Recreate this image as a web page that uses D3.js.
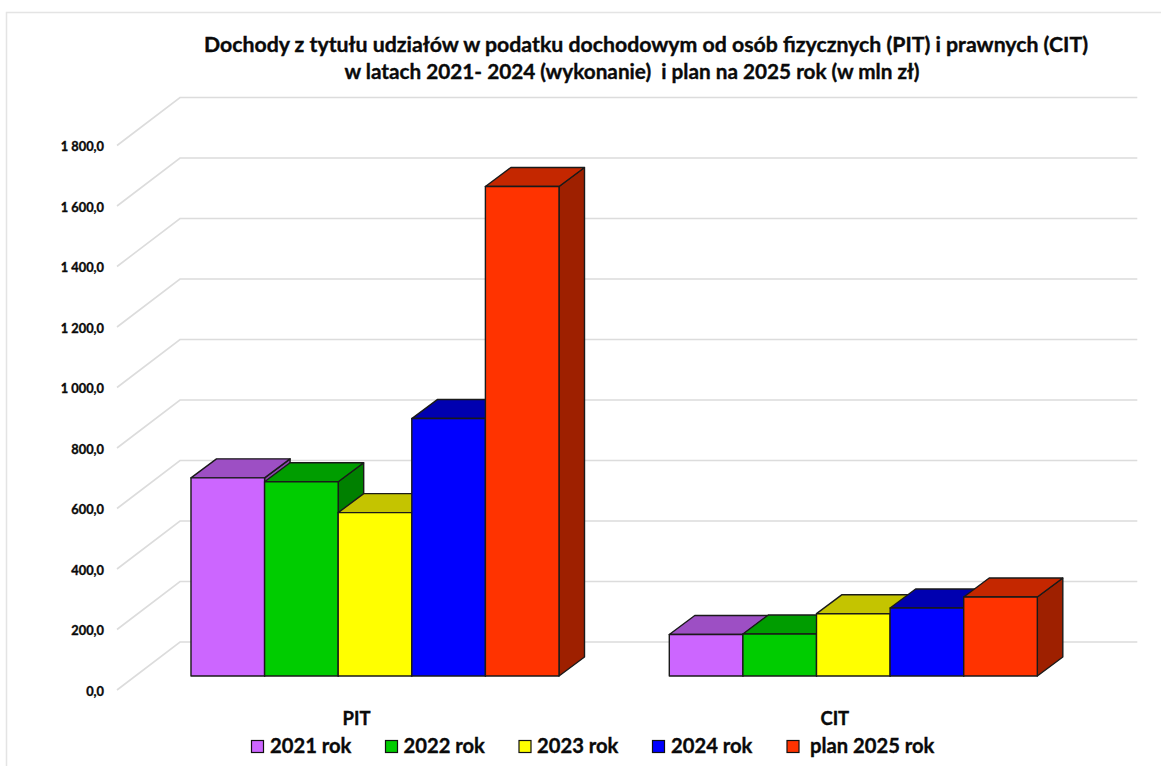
<!DOCTYPE html>
<html>
<head>
<meta charset="utf-8">
<script src="https://cdn.jsdelivr.net/npm/d3@7"></script>
<style>
  html, body { margin: 0; padding: 0; background: #fff; }
  svg { display: block; }
  text { font-family: Lato, "Open Sans", sans-serif; font-weight: 700; fill: #0a0a0a; stroke: #0a0a0a; stroke-width: 0.35px; }
</style>
</head>
<body>
<script>
// DEFINE DATA
var categories = ['PIT', 'CIT'];
var seriesNames = ['2021 rok', '2022 rok', '2023 rok', '2024 rok', 'plan 2025 rok'];
var pitValues = [655, 642, 540, 851, 1618];
var citValues = [137, 139, 206, 225, 261];
var tickValues = [0, 200, 400, 600, 800, 1000, 1200, 1400, 1600, 1800];
var titleLines = [
  'Dochody z tytułu udziałów w podatku dochodowym od osób fizycznych (PIT) i prawnych (CIT)',
  'w latach 2021- 2024 (wykonanie)  i plan na 2025 rok (w mln zł)'
];

var frontColors = ['#cc66ff', '#00cc00', '#ffff00', '#0000ff', '#ff3300'];
var topColors = ['#9d4fc4', '#009d00', '#c4c400', '#0000b0', '#c42700'];
var sideColors = ['#8a45ad', '#008000', '#a0a000', '#00008f', '#9e2000'];

// DEFINE VARIABLES
var svgWidth = 1161;
var svgHeight = 766;
var plotLeft = 117;
var plotRight = 1074.3;
var wallDx = 63;
var wallDy = -48;
var barOffsetX = 18.5;
var barOffsetY = -14;
var barDx = 25.5;
var barDy = -19;

var svg = d3.select('body').append('svg')
  .attr('width', svgWidth)
  .attr('height', svgHeight);

// panel border
svg.append('path')
  .attr('d', 'M6.5,766V12.5H1161')
  .attr('fill', 'none')
  .attr('stroke', '#e4e4e4')
  .attr('stroke-width', 1.5);

// SCALES (front plane of the floor)
var y = d3.scaleLinear().domain([0, 1800]).range([690, 145.5]);
var x0 = d3.scaleBand().domain(categories).range([plotLeft, plotRight]).paddingInner(0.2306).paddingOuter(0.116);
var x1 = d3.scaleBand().domain(seriesNames).range([0, x0.bandwidth()]);

// gridlines on the side and back wall
svg.append('g').selectAll('path')
  .data(tickValues)
  .enter()
  .append('path')
  .attr('d', function(d) {
    return 'M' + plotLeft + ',' + y(d) +
      'L' + (plotLeft + wallDx) + ',' + (y(d) + wallDy) +
      'L' + (plotRight + wallDx) + ',' + (y(d) + wallDy);
  })
  .attr('fill', 'none')
  .attr('stroke', '#dcdcdc')
  .attr('stroke-width', 1.6);

// tick labels
var pl = d3.formatLocale({ decimal: ',', thousands: ' ', grouping: [3], currency: ['', ''] });
var yAxis = d3.axisLeft(y)
  .tickValues(tickValues)
  .tickFormat(pl.format(',.1f'))
  .tickSize(0)
  .tickPadding(0);

var axisG = svg.append('g')
  .attr('transform', 'translate(104,1)')
  .call(yAxis);
axisG.select('.domain').remove();
axisG.selectAll('text')
  .style('font-family', 'Lato, sans-serif')
  .style('font-weight', 700)
  .style('font-size', '12.8px')
  .attr('fill', '#0a0a0a');

// bars, drawn left to right so that each one covers the side of the previous
function drawBar(g, cat, value, i) {
  var left = x0(cat) + x1(seriesNames[i]) + barOffsetX;
  var right = left + x1.bandwidth();
  var base = y(0) + barOffsetY;
  var top = y(value) + barOffsetY;

  // side face
  g.append('polygon')
    .attr('points', [[right, base], [right, top], [right + barDx, top + barDy], [right + barDx, base + barDy]].join(' '))
    .attr('fill', sideColors[i]);
  // top face
  g.append('polygon')
    .attr('points', [[left, top], [right, top], [right + barDx, top + barDy], [left + barDx, top + barDy]].join(' '))
    .attr('fill', topColors[i]);
  // front face
  g.append('rect')
    .attr('x', left)
    .attr('y', top)
    .attr('width', right - left)
    .attr('height', base - top)
    .attr('fill', frontColors[i]);
}

var barsG = svg.append('g')
  .attr('stroke', '#1a1a1a')
  .attr('stroke-width', 1.4)
  .attr('stroke-linejoin', 'round');

pitValues.forEach(function(d, i) { drawBar(barsG, 'PIT', d, i); });
citValues.forEach(function(d, i) { drawBar(barsG, 'CIT', d, i); });

// category labels
svg.append('g').selectAll('text')
  .data(categories)
  .enter()
  .append('text')
  .text(function(d) { return d; })
  .attr('x', function(d) { return x0(d) + x0.bandwidth() / 2; })
  .attr('y', 725)
  .attr('text-anchor', 'middle')
  .style('font-size', '18.5px');

// title, second line sits left of the first in the original
var titleX = [646, 632];
var titleLengths = [884, 575];
svg.append('g').selectAll('text')
  .data(titleLines)
  .enter()
  .append('text')
  .text(function(d) { return d; })
  .attr('x', function(d, i) { return titleX[i]; })
  .attr('y', function(d, i) { return 52 + i * 27; })
  .attr('text-anchor', 'middle')
  .attr('textLength', function(d, i) { return titleLengths[i]; })
  .attr('lengthAdjust', 'spacingAndGlyphs')
  .style('white-space', 'pre')
  .style('font-size', '20px');

// legend
var legendX = [251.5, 385.5, 519, 652.5, 787];
var legendTextX = [270, 403.5, 537, 671, 810];
var legend = svg.append('g');
seriesNames.forEach(function(name, i) {
  legend.append('rect')
    .attr('x', legendX[i])
    .attr('y', 740.5)
    .attr('width', 12)
    .attr('height', 12)
    .attr('fill', frontColors[i])
    .attr('stroke', '#111')
    .attr('stroke-width', 1.2);
  legend.append('text')
    .text(name)
    .attr('x', legendTextX[i])
    .attr('y', 753)
    .style('font-size', '20.2px');
});
</script>
</body>
</html>
